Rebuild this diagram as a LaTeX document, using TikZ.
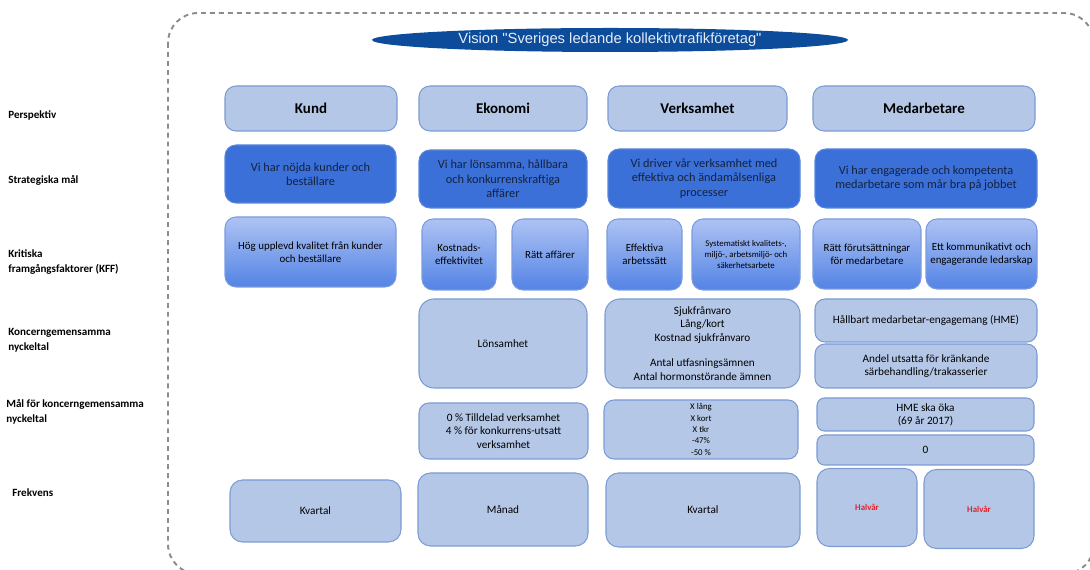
\documentclass[tikz,border=0pt]{standalone}
\usepackage{fontspec}
\setmainfont{Carlito}
\newfontfamily\visionfont{Liberation Sans}
\usetikzlibrary{shapes.geometric, positioning}

\definecolor{perspfill}{HTML}{B4C7E7}
\definecolor{boxedge}{HTML}{7C9BD4}
\definecolor{stratfill}{HTML}{3A70D8}
\definecolor{stratedge}{HTML}{5A86DC}
\definecolor{strattext}{HTML}{16223E}
\definecolor{kfftop}{HTML}{AEC3F3}
\definecolor{kffbot}{HTML}{5383E5}
\definecolor{kffedge}{HTML}{7A9BE0}
\definecolor{visionblue}{HTML}{0D4C9A}
\definecolor{visiontext}{HTML}{E4ECF8}
\definecolor{halvred}{HTML}{E3202B}
\definecolor{framegray}{HTML}{8C8C8C}

\tikzset{wh/.style 2 args={minimum width=#1*0.02cm, minimum height=#2*0.02cm}}

\begin{document}
\begin{tikzpicture}[x=0.02cm, y=-0.02cm,
   box/.style={draw=boxedge, line width=0.6pt, rounded corners=0.22cm, align=center,
               inner sep=1pt, text=black, font=\fontsize{6.5}{8}\selectfont},
   persp/.style={box, fill=perspfill, font=\bfseries\fontsize{8.5}{10}\selectfont},
   goal/.style={box, fill=stratfill, draw=stratedge, text=strattext,
                font=\fontsize{7}{8.2}\selectfont},
   kff/.style={box, top color=kfftop, bottom color=kffbot, draw=kffedge,
               font=\fontsize{6.2}{7.4}\selectfont},
   tal/.style={box, fill=perspfill, rounded corners=0.3cm, font=\fontsize{6.4}{7.5}\selectfont},
   tiny/.style={font=\fontsize{5}{6.5}\selectfont},
   halv/.style={tal, text=halvred, font=\bfseries\fontsize{5}{6}\selectfont},
   rowlabel/.style={anchor=west, align=left, inner sep=0pt,
                    font=\bfseries\fontsize{6.3}{8.5}\selectfont},
   vision/.style={ellipse, fill=visionblue, inner sep=0pt, text=visiontext,
                  font=\visionfont\fontsize{8.4}{10}\selectfont},
   frame/.style={draw=framegray, dashed, line width=1.1pt, dash pattern=on 2.8pt off 2.3pt,
                 rounded corners=0.6cm}]

   \useasboundingbox (0,0) rectangle (1090,570);
   \draw[frame] (168,13) rectangle (1094,574);

   \node[vision, wh={476}{24}] (vision) at (610,40)
        {Vision "Sveriges ledande kollektivtrafikföretag"};

   % radrubriker
   \node[rowlabel] (l_persp) at (8,115) {Perspektiv};
   \node[rowlabel] (l_strat) at (8,180) {Strategiska mål};
   \node[rowlabel] (l_kff)   at (8,262) {Kritiska\\framgångsfaktorer (KFF)};
   \node[rowlabel] (l_nyck)  at (8,340) {Koncerngemensamma\\nyckeltal};
   \node[rowlabel] (l_mal)   at (6,412) {Mål för koncerngemensamma\\nyckeltal};
   \node[rowlabel] (l_frek)  at (12,493) {Frekvens};

   % perspektiv
   \node[persp, wh={172}{45}] (p_kund)   at (311,108.5) {Kund};
   \node[persp, wh={168}{45}] (p_ekon)   at (503,108.5) {Ekonomi};
   \node[persp, wh={179}{45}] (p_verks)  at (697.5,108.5) {Verksamhet};
   \node[persp, wh={222}{45}] (p_medarb) at (924,108.5) {Medarbetare};

   % strategiska mål
   \node[goal, wh={171}{58}] (s_kund)   at (310.5,174) {Vi har nöjda kunder och\\beställare};
   \node[goal, wh={168}{58}] (s_ekon)   at (503,179) {Vi har lönsamma, hållbara\\och konkurrenskraftiga\\affärer};
   \node[goal, wh={192}{59}] (s_verks)  at (704,178.5) {Vi driver vår verksamhet med\\effektiva och ändamålsenliga\\processer};
   \node[goal, wh={222}{59}] (s_medarb) at (926,178.5) {Vi har engagerade och kompetenta\\medarbetare som mår bra på jobbet};

   % KFF
   \node[kff, wh={171}{70}] (k_kund)    at (310.5,252) {Hög upplevd kvalitet från kunder\\och beställare};
   \node[kff, wh={74}{71}]  (k_kostn)   at (459,254.5) {Kostnads-\\effektivitet};
   \node[kff, wh={76}{71}]  (k_ratt)    at (550,254.5) {Rätt affärer};
   \node[kff, wh={75}{71}]  (k_effekt)  at (644.5,254.5) {Effektiva\\arbetssätt};
   \node[kff, tiny, wh={108}{71}] (k_system) at (746,254.5) {Systematiskt kvalitets-,\\miljö-, arbetsmiljö- och\\säkerhetsarbete};
   \node[kff, wh={108}{70}] (k_forut)   at (867,254) {Rätt förutsättningar\\för medarbetare};
   \node[kff, wh={111}{70}] (k_kommun)  at (981.5,254) {Ett kommunikativt och\\engagerande ledarskap};

   % nyckeltal
   \node[tal, wh={168}{89}] (n_lons)  at (503,343.5) {Lönsamhet};
   \node[tal, wh={195}{89}] (n_sjuk)  at (702.5,343.5)
        {Sjukfrånvaro\\Lång/kort\\Kostnad sjukfrånvaro\\[7.2pt]Antal utfasningsämnen\\Antal hormonstörande ämnen};
   \node[tal, rounded corners=0.2cm, wh={222}{43}] (n_hme)   at (926,320.5) {Hållbart medarbetar-engagemang (HME)};
   \node[tal, rounded corners=0.2cm, wh={222}{44}] (n_andel) at (926,366) {Andel utsatta för kränkande\\särbehandling/trakasserier};

   % mål för nyckeltal
   \node[tal, rounded corners=0.2cm, wh={169}{56}] (m_ekon)  at (503.5,431)
        {0 \% Tilldelad verksamhet\\4 \% för konkurrens-utsatt\\verksamhet};
   \node[tal, rounded corners=0.2cm, tiny, wh={194}{59}] (m_verks) at (701,429.5)
        {X lång\\X kort\\X tkr\\-47\%\\-50 \%};
   \node[tal, rounded corners=0.15cm, wh={217}{33}] (m_hme)   at (925.5,414.5) {HME ska öka\\(69 år 2017)};
   \node[tal, rounded corners=0.15cm, wh={217}{30}] (m_andel) at (925.5,450) {0};

   % frekvens
   \node[tal, rounded corners=0.25cm, wh={171}{62}] (f_kund)  at (315.5,511) {Kvartal};
   \node[tal, rounded corners=0.25cm, wh={170}{73}] (f_ekon)  at (503,509.5) {Månad};
   \node[tal, rounded corners=0.25cm, wh={194}{74}] (f_verks) at (703,510) {Kvartal};
   \node[halv, rounded corners=0.25cm, wh={100}{78}] (f_hme)  at (867,507.5) {Halvår};
   \node[halv, rounded corners=0.25cm, wh={110}{79}] (f_andel) at (979,509) {Halvår};

\end{tikzpicture}
\end{document}
